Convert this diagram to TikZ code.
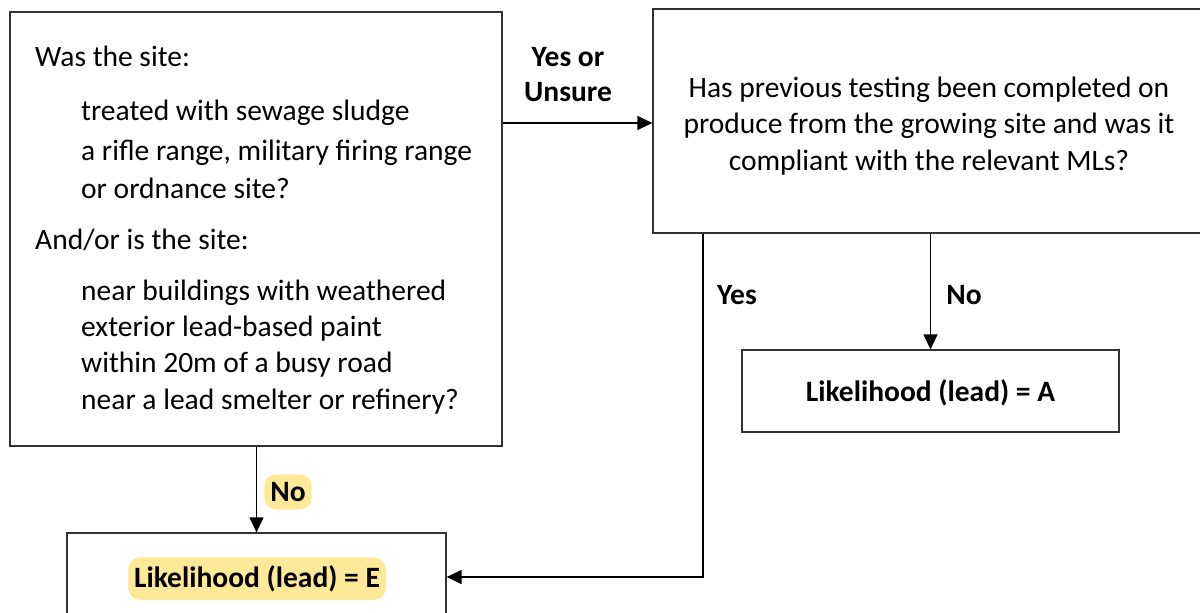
\documentclass[tikz,border=0pt]{standalone}
\usepackage{fontspec}
\setmainfont{Carlito}
\usetikzlibrary{arrows.meta}
\definecolor{hl}{HTML}{FFE897}
\definecolor{edge}{HTML}{333333}
\tikzset{
  box/.style={draw=edge, line width=1.2pt, rectangle, inner sep=0pt},
  arr/.style={draw=black, line width=1.2pt, -{Triangle[width=14pt,length=15pt]}},
  txt/.style={inner sep=0pt, anchor=mid west},
  lbl/.style={inner sep=0pt, anchor=mid, font=\fontsize{29.5}{36.5}\selectfont\bfseries},
  hilite/.style={lbl, fill=hl, rounded corners=12pt, inner xsep=6pt, inner ysep=8pt}
}
\begin{document}
\begin{tikzpicture}[x=1pt,y=-1pt, font=\fontsize{29.5}{36.5}\selectfont]
\useasboundingbox (0,0) rectangle (1200,613);
\clip (0,0) rectangle (1200,613);
% boxes
\node[box, minimum width=492pt, minimum height=434pt] (L) at (256,229) {};
\node[box, minimum width=552pt, minimum height=224pt] (Q) at (929,121) {};
\node[box, minimum width=377pt, minimum height=82pt] (A) at (930.5,391) {};
\node[box, minimum width=379pt, minimum height=88pt] (E) at (256.5,577) {};
% box texts
\node[inner sep=0pt, align=center, anchor=center] (Qt) at (929,126)
  {Has previous testing been completed on\\produce from the growing site and was it\\compliant with the relevant MLs?};
\node[lbl] (At) at (930.5,399) {Likelihood (lead) = A};
\node[hilite] (Et) at (257,585) {Likelihood (lead) = E};
% left box text
\node[txt] (l1) at (35,64) {Was the site:};
\node[txt] (l2) at (81,118) {treated with sewage sludge};
\node[txt] (l3) at (81,158) {a rifle range, military firing range};
\node[txt] (l4) at (81,196) {or ordnance site?};
\node[txt] (l5) at (35,247) {And/or is the site:};
\node[txt] (l6) at (81,298) {near buildings with weathered};
\node[txt] (l7) at (81,334) {exterior lead-based paint};
\node[txt] (l8) at (81,370) {within 20m of a busy road};
\node[txt] (l9) at (81,407) {near a lead smelter or refinery?};
% connectors
\coordinate (yu) at (0,123);
\coordinate (yx) at (703,0);
\draw[arr] (L.east |- yu) -- (Q.west |- yu);
\draw[arr] (E.north |- L.south) -- (E.north);
\draw[arr] (Q.south -| A.north) -- (A.north);
\draw[arr] (Q.south -| yx) |- (E.east);
% labels
\node[lbl] (yes1) at (568,64) {Yes or};
\node[lbl] (yes2) at (568,99) {Unsure};
\node[lbl] (yes3) at (737,302) {Yes};
\node[lbl] (no1) at (964,302) {No};
\node[hilite] (no2) at (288,499) {No};
\end{tikzpicture}
\end{document}
